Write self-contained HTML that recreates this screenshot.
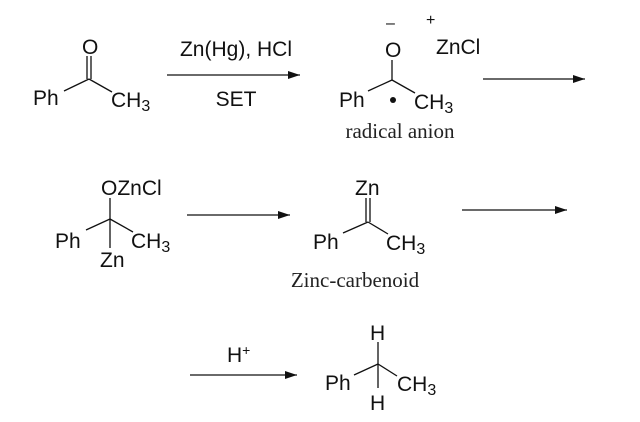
<!DOCTYPE html>
<html><head><style>
html,body{margin:0;padding:0;background:#fff;}
svg{display:block}
.s{font-family:"Liberation Sans",sans-serif;font-size:21px;fill:#111}
.r{font-family:"Liberation Serif",serif;font-size:21px;fill:#222}
.sub{font-size:16px}
</style></head><body>
<svg width="640" height="422" viewBox="0 0 640 422" xmlns="http://www.w3.org/2000/svg">
<defs><marker id="a" markerWidth="12" markerHeight="8" refX="12" refY="4" orient="auto" markerUnits="userSpaceOnUse"><path d="M0,0 L12,4 L0,8 Z" fill="#111"/></marker></defs>
<g stroke="#111" stroke-width="1.3" fill="none">
<line x1="87" y1="56" x2="87" y2="79"/><line x1="91" y1="56" x2="91" y2="79"/>
<line x1="64" y1="91" x2="89" y2="79"/><line x1="89" y1="79" x2="112" y2="92"/>
<line x1="167" y1="75" x2="300" y2="75" marker-end="url(#a)"/>
<line x1="392" y1="60" x2="392" y2="80"/>
<line x1="368" y1="91" x2="392" y2="80"/><line x1="392" y1="80" x2="415" y2="93"/>
<line x1="483" y1="79" x2="585" y2="79" marker-end="url(#a)"/>
<line x1="110" y1="198" x2="110" y2="248"/>
<line x1="86" y1="230" x2="110" y2="219"/><line x1="110" y1="219" x2="133" y2="232"/>
<line x1="187" y1="215" x2="290" y2="215" marker-end="url(#a)"/>
<line x1="366" y1="198" x2="366" y2="222"/><line x1="370" y1="198" x2="370" y2="222"/>
<line x1="343" y1="233" x2="368" y2="222"/><line x1="368" y1="222" x2="388" y2="234"/>
<line x1="462" y1="210" x2="567" y2="210" marker-end="url(#a)"/>
<line x1="190" y1="375" x2="297" y2="375" marker-end="url(#a)"/>
<line x1="378" y1="342" x2="378" y2="388"/>
<line x1="354" y1="375" x2="378" y2="364"/><line x1="378" y1="364" x2="397" y2="376"/>
</g>
<circle cx="393" cy="100" r="3" fill="#111"/>
<text class="s" x="82" y="54">O</text>
<text class="s" x="33" y="105">Ph</text>
<text class="s" x="111" y="107">CH<tspan class="sub" dy="4">3</tspan></text>
<text class="s" x="236" y="56" text-anchor="middle">Zn(Hg), HCl</text>
<text class="s" x="236" y="106" text-anchor="middle">SET</text>
<text class="s" x="386" y="28" style="font-size:16px">–</text>
<text class="s" x="426" y="25" style="font-size:16px">+</text>
<text class="s" x="385" y="57">O</text>
<text class="s" x="436" y="54">ZnCl</text>
<text class="s" x="339" y="107">Ph</text>
<text class="s" x="414" y="109">CH<tspan class="sub" dy="4">3</tspan></text>
<text class="r" x="400" y="138" text-anchor="middle">radical anion</text>
<text class="s" x="101" y="195">OZnCl</text>
<text class="s" x="55" y="248">Ph</text>
<text class="s" x="131" y="248">CH<tspan class="sub" dy="4">3</tspan></text>
<text class="s" x="100" y="267">Zn</text>
<text class="s" x="355" y="195">Zn</text>
<text class="s" x="313" y="249">Ph</text>
<text class="s" x="386" y="250">CH<tspan class="sub" dy="4">3</tspan></text>
<text class="r" x="355" y="287" text-anchor="middle">Zinc-carbenoid</text>
<text class="s" x="227" y="362">H<tspan style="font-size:14px" dy="-7">+</tspan></text>
<text class="s" x="370" y="340">H</text>
<text class="s" x="325" y="390">Ph</text>
<text class="s" x="397" y="391">CH<tspan class="sub" dy="4">3</tspan></text>
<text class="s" x="370" y="410">H</text>
</svg>
</body></html>
